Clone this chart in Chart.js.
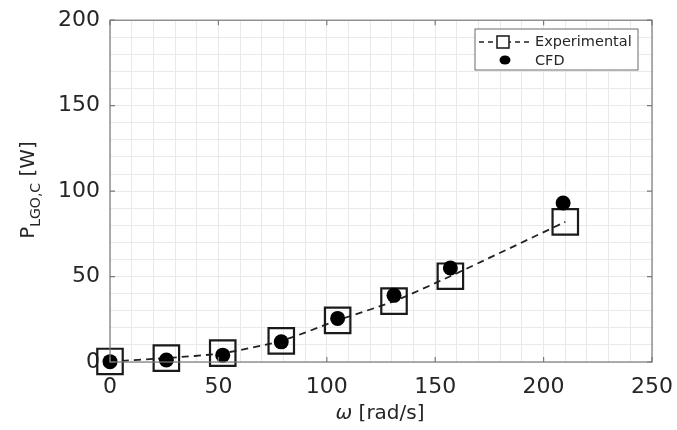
<!DOCTYPE html>
<html>
<head>
<meta charset="utf-8">
<script src="https://cdn.jsdelivr.net/npm/chart.js@4/dist/chart.umd.min.js"></script>
<style>
html,body{margin:0;padding:0;background:#fff;}
#wrap{width:677px;height:430px;position:relative;}
</style>
</head>
<body>
<div id="wrap"><canvas id="c" width="677" height="430"></canvas></div>
<script>
// ---- data ----
const omegaExp = [0, 26, 52, 79, 105, 131, 157, 210];
const powerExp = [0.3, 2.3, 5.2, 12.4, 24.4, 35.6, 50.2, 82];
const omegaCfd = [0, 26, 52, 79, 105, 131, 157, 209];
const powerCfd = [0.2, 1.2, 4, 11.8, 25.5, 39, 55, 93];
const xTickLabels = [0, 50, 100, 150, 200, 250];
const yTickLabels = [0, 50, 100, 150, 200];
const seriesNames = ['Experimental', 'CFD'];
const xTitle = ['\u03c9', ' [rad/s]'];
const yTitle = ['P', 'LGO,C', ' [W]'];

const FONT = 'DejaVu Sans';
const TXT = '#262626';

const expPts = omegaExp.map((x, i) => ({x: x, y: powerExp[i]}));
const cfdPts = omegaCfd.map((x, i) => ({x: x, y: powerCfd[i]}));

const decor = {
  id: 'decor',
  afterDraw(chart) {
    const ctx = chart.ctx, a = chart.chartArea;
    const xs = chart.scales.x, ys = chart.scales.y;
    ctx.save();
    // box
    ctx.strokeStyle = '#7a7a7a';
    ctx.lineWidth = 1.2;
    ctx.strokeRect(a.left, a.top, a.right - a.left, a.bottom - a.top);
    // inward ticks
    ctx.beginPath();
    xTickLabels.forEach(v => {
      const px = xs.getPixelForValue(v);
      ctx.moveTo(px, a.bottom); ctx.lineTo(px, a.bottom - 5);
      ctx.moveTo(px, a.top); ctx.lineTo(px, a.top + 5);
    });
    yTickLabels.forEach(v => {
      const py = ys.getPixelForValue(v);
      ctx.moveTo(a.left, py); ctx.lineTo(a.left + 5, py);
      ctx.moveTo(a.right, py); ctx.lineTo(a.right - 5, py);
    });
    ctx.stroke();

    // x title
    ctx.fillStyle = TXT;
    ctx.textBaseline = 'middle';
    ctx.textAlign = 'left';
    ctx.font = 'italic 20px ' + FONT;
    const w0 = ctx.measureText(xTitle[0]).width;
    ctx.font = '20px ' + FONT;
    const w1 = ctx.measureText(xTitle[1]).width;
    let sx = 380 - (w0 + w1) / 2;
    ctx.font = 'italic 20px ' + FONT;
    ctx.fillText(xTitle[0], sx, 414);
    ctx.font = '20px ' + FONT;
    ctx.fillText(xTitle[1], sx + w0, 414);

    // y title (rotated, with subscript)
    ctx.save();
    ctx.translate(27, 190);
    ctx.rotate(-Math.PI / 2);
    ctx.font = '20px ' + FONT;
    const p0 = ctx.measureText(yTitle[0]).width;
    const p2 = ctx.measureText(yTitle[2]).width;
    ctx.font = '14px ' + FONT;
    const p1 = ctx.measureText(yTitle[1]).width;
    let ty = -(p0 + p1 + p2) / 2;
    ctx.textBaseline = 'alphabetic';
    ctx.font = '20px ' + FONT;
    ctx.fillText(yTitle[0], ty, 7);
    ctx.font = '14px ' + FONT;
    ctx.fillText(yTitle[1], ty + p0, 13);
    ctx.font = '20px ' + FONT;
    ctx.fillText(yTitle[2], ty + p0 + p1, 7);
    ctx.restore();

    // legend
    const lx = 475, ly = 29, lw = 163, lh = 41;
    ctx.fillStyle = '#fff';
    ctx.fillRect(lx, ly, lw, lh);
    ctx.strokeStyle = '#6a6a6a';
    ctx.lineWidth = 1;
    ctx.strokeRect(lx, ly, lw, lh);
    const e0 = chart.data.datasets[0], e1 = chart.data.datasets[1];
    ctx.strokeStyle = e0.borderColor;
    ctx.lineWidth = 1.6;
    ctx.setLineDash([5, 4]);
    ctx.beginPath();
    ctx.moveTo(479, 42); ctx.lineTo(530, 42);
    ctx.stroke();
    ctx.setLineDash([]);
    ctx.fillStyle = '#fff';
    ctx.fillRect(497, 36, 12, 12);
    ctx.strokeRect(497, 36, 12, 12);
    ctx.fillStyle = e1.backgroundColor;
    ctx.beginPath();
    ctx.ellipse(505, 60, 5.5, 4.5, 0, 0, Math.PI * 2);
    ctx.fill();
    ctx.fillStyle = TXT;
    ctx.font = '14.5px ' + FONT;
    ctx.textBaseline = 'middle';
    ctx.fillText(seriesNames[0], 535, 42);
    ctx.fillText(seriesNames[1], 535, 61);
    ctx.restore();
  }
};

new Chart(document.getElementById('c'), {
  type: 'scatter',
  data: {
    datasets: [
      {
        label: seriesNames[0],
        data: expPts,
        showLine: true,
        borderColor: '#222',
        borderWidth: 1.8,
        borderDash: [7, 5],
        tension: 0.25,
        pointStyle: 'rect',
        pointRadius: 18,
        pointHoverRadius: 18,
        pointBorderWidth: 2.2,
        pointBorderColor: '#1a1a1a',
        pointBackgroundColor: 'rgba(0,0,0,0)',
        backgroundColor: 'rgba(0,0,0,0)',
        clip: false,
        order: 2
      },
      {
        label: seriesNames[1],
        data: cfdPts,
        showLine: false,
        pointStyle: 'circle',
        pointRadius: 7.5,
        pointHoverRadius: 7.5,
        pointBorderWidth: 0,
        backgroundColor: '#000',
        pointBackgroundColor: '#000',
        borderColor: '#000',
        clip: false,
        order: 1
      }
    ]
  },
  options: {
    responsive: false,
    animation: false,
    events: [],
    layout: {padding: {left: 0, right: 25, top: 18, bottom: 0}},
    plugins: {legend: {display: false}, tooltip: {enabled: false}},
    scales: {
      x: {
        type: 'linear', min: 0, max: 250,
        afterFit(s) { s.height = 68; s.paddingLeft = 0; s.paddingRight = 0; },
        ticks: {
          stepSize: 10, autoSkip: false, maxRotation: 0,
          callback: v => xTickLabels.includes(v) ? String(v) : '',
          font: {family: FONT, size: 22}, color: TXT, padding: 12
        },
        grid: {color: '#e9e9e9', lineWidth: 1, drawTicks: false},
        border: {display: false}
      },
      y: {
        type: 'linear', min: 0, max: 200,
        afterFit(s) { s.width = 110; s.paddingTop = 0; s.paddingBottom = 0; },
        ticks: {
          stepSize: 10, autoSkip: false,
          callback: v => yTickLabels.includes(v) ? String(v) : '',
          font: {family: FONT, size: 22}, color: TXT, padding: 10
        },
        grid: {color: '#e9e9e9', lineWidth: 1, drawTicks: false},
        border: {display: false}
      }
    }
  },
  plugins: [decor]
});
</script>
</body>
</html>
